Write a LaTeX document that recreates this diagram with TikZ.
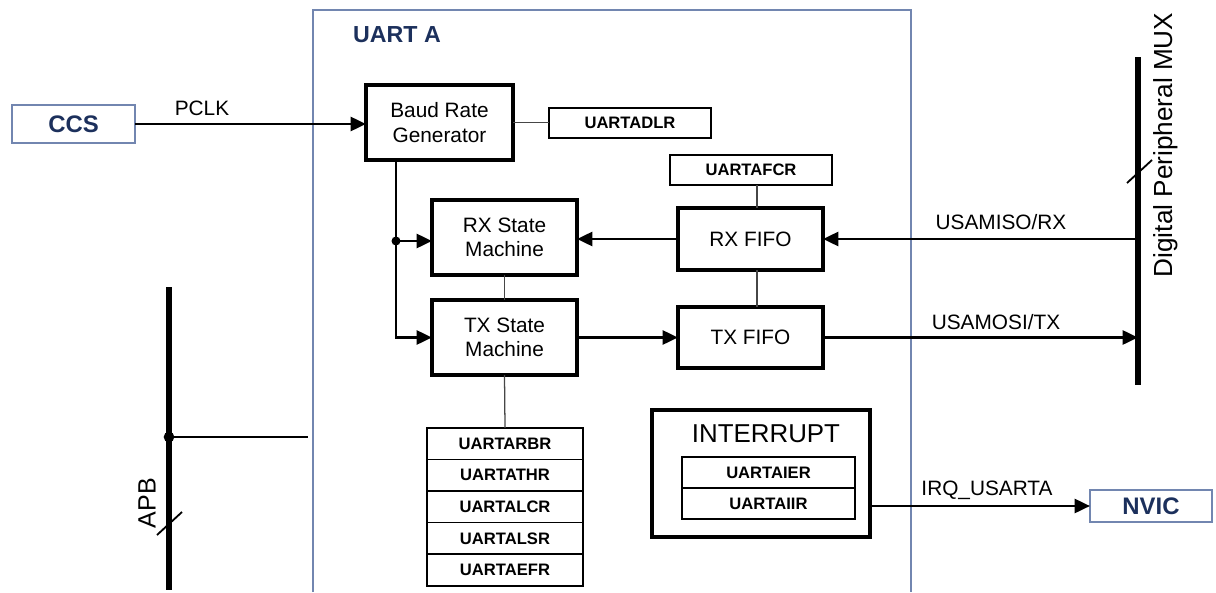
\documentclass[tikz,border=0pt]{standalone}
\usepackage{fontspec}
\setmainfont{Liberation Sans}
\usetikzlibrary{arrows.meta}
\definecolor{framec}{RGB}{114,134,176}
\definecolor{navy}{RGB}{28,48,92}
\definecolor{thinc}{RGB}{70,70,70}
\tikzset{
  blk/.style={draw,line width=2.4pt,inner sep=0pt,outer sep=0pt,align=center,font=\fontsize{14.8}{17.5}\selectfont},
  reg/.style={draw,line width=1.1pt,inner sep=0pt,outer sep=0pt,font=\bfseries\fontsize{11.8}{13}\selectfont},
  ext/.style={draw=framec,line width=1.8pt,inner sep=0pt,outer sep=0pt,text=navy,font=\bfseries\fontsize{17}{20}\selectfont},
  sig/.style={line width=2pt,-{Triangle[length=11pt,width=10pt]}},
  link/.style={thinc,line width=0.9pt},
  bus/.style={line width=4.2pt},
  lbl/.style={font=\fontsize{14.8}{17}\selectfont},
}

\begin{document}
\begin{tikzpicture}[x=0.025cm,y=-0.025cm]
  \useasboundingbox (0,0) rectangle (1216,592);

  \draw[framec,line width=1.5pt] (313,592) -- (313,10) -- (911,10) -- (911,592);
  \node[text=navy,font=\bfseries\fontsize{16.5}{19}\selectfont] (title) at (397,35) {UART A};

  \node[ext,minimum width=3.075cm,minimum height=0.95cm] (ccs) at (73.5,124) {CCS};
  \node[ext,minimum width=3.05cm,minimum height=0.8cm] (nvic) at (1151,506) {NVIC};

  \node[blk,minimum width=3.675cm,minimum height=1.875cm] (baud) at (439.5,122.5) {Baud Rate\\Generator};
  \node[reg,minimum width=4.05cm,minimum height=0.75cm] (adlr) at (630,123) {UARTADLR};
  \node[reg,minimum width=4.05cm,minimum height=0.75cm] (afcr) at (751,170) {UARTAFCR};
  \node[blk,minimum width=3.625cm,minimum height=1.875cm] (rxsm) at (504.5,237.5) {RX State\\Machine};
  \node[blk,minimum width=3.625cm,minimum height=1.875cm] (txsm) at (504.5,337.5) {TX State\\Machine};
  \node[blk,minimum width=3.625cm,minimum height=1.55cm] (rxfifo) at (750.5,239) {RX FIFO};
  \node[blk,minimum width=3.625cm,minimum height=1.525cm] (txfifo) at (750.5,337.5) {TX FIFO};

  \foreach \regname [count=\i] in {UARTARBR,UARTATHR,UARTALCR,UARTALSR,UARTAEFR}
    \node[reg,minimum width=3.9cm,minimum height=0.79cm] (reg\i) at (505,412+31.6*\i) {\regname};

  \node[blk,minimum width=5.45cm,minimum height=3.175cm] (intr) at (761,473.5) {};
  \node[font=\fontsize{18.4}{21}\selectfont] (intrlbl) at (766,434) {INTERRUPT};
  \node[reg,minimum width=4.325cm,minimum height=0.775cm] (ier) at (768.5,472.5) {UARTAIER};
  \node[reg,minimum width=4.325cm,minimum height=0.775cm] (iir) at (768.5,503.5) {UARTAIIR};

  \coordinate (muxtop) at (1138,57);
  \coordinate (muxbot) at (1138,385);
  \draw[bus] (muxtop) -- (muxbot);
  \draw[line width=1.3pt] (1127,183) -- (1152,160);
  \node[rotate=90,font=\fontsize{18.6}{21}\selectfont] (muxlbl) at (1166,145) {Digital Peripheral MUX};

  \coordinate (apbtop) at (169,287);
  \coordinate (apbbot) at (169,590);
  \coordinate (apbtap) at (169,437);
  \coordinate (apbend) at (308,437);
  \draw[bus] (apbtop) -- (apbbot);
  \draw[line width=1.6pt] (apbtap) -- (apbend);
  \fill (apbtap) circle (3.8pt);
  \draw[line width=1.3pt] (157,535) -- (182,512);
  \node[rotate=90,font=\fontsize{17.8}{20}\selectfont] (apblbl) at (147,503) {APB};

  \draw[sig] (ccs.east |- 0,124) -- (baud.west |- 0,124);
  \node[lbl] (pclk) at (202,108) {PCLK};
  \draw[link] (baud.east) -- (baud.east -| adlr.west);
  \draw[link] (afcr.south -| 757,0) -- (rxfifo.north -| 757,0);

  \coordinate (tap) at (396,241);
  \draw[sig] (baud.south -| tap) |- (txsm.west);
  \draw[sig] (tap) -- (tap -| rxsm.west);
  \fill (tap) circle (3.2pt);

  \draw[sig] (rxfifo.west) -- (rxfifo.west -| rxsm.east);
  \draw[sig] (txsm.east) -- (txsm.east -| txfifo.west);
  \draw[link] (rxsm.south) -- (txsm.north);
  \draw[link] (rxfifo.south -| 757,0) -- (txfifo.north -| 757,0);
  \draw[link] (txsm.south) -- (reg1.north);

  \draw[sig] (muxtop |- rxfifo.east) -- (rxfifo.east);
  \node[lbl] (misolbl) at (1001,222) {USAMISO/RX};
  \draw[sig] (txfifo.east) -- (txfifo.east -| muxtop);
  \node[lbl] (mosilbl) at (996,322) {USAMOSI/TX};

  \draw[sig] (intr.east |- nvic.west) -- (nvic.west);
  \node[lbl] (irqlbl) at (987,490) {IRQ\_USARTA};
\end{tikzpicture}
\end{document}
